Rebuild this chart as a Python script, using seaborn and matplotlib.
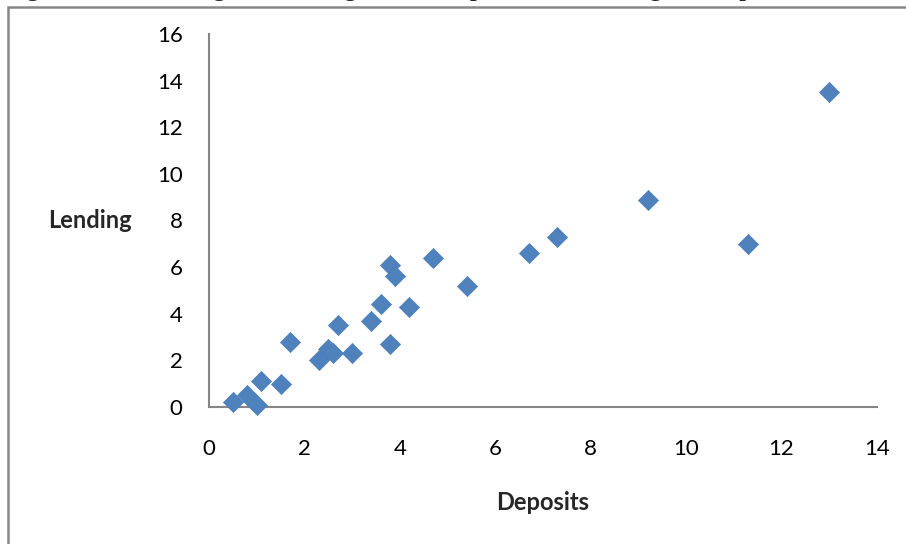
import matplotlib
matplotlib.use("Agg")
import matplotlib.pyplot as plt
from matplotlib.patches import Rectangle
import seaborn as sns
import pandas as pd

# values
deposits = [0.5, 0.8, 1.0, 1.1, 1.5, 1.7, 2.3, 2.5, 2.6, 2.7, 3.0, 3.4,
            3.6, 3.8, 3.9, 3.8, 4.2, 4.7, 5.4, 6.7, 7.3, 9.2, 11.3, 13.0]
lending = [0.2, 0.5, 0.1, 1.1, 1.0, 2.8, 2.0, 2.5, 2.3, 3.5, 2.3, 3.7,
           4.4, 6.1, 5.6, 2.7, 4.3, 6.4, 5.2, 6.6, 7.3, 8.9, 7.0, 13.5]
x_ticks = [0, 2, 4, 6, 8, 10, 12, 14]
y_ticks = [0, 2, 4, 6, 8, 10, 12, 14, 16]
title = "Figure 1: Scatter diagram showing relationship between Lending and Deposits"

df = pd.DataFrame({"Deposits": deposits, "Lending": lending})

sns.set_style("white")
plt.rcParams["font.family"] = ["Lato", "DejaVu Sans"]

fig = plt.figure(figsize=(9.06, 5.44), dpi=100)
ax = fig.add_axes([209 / 906, 1 - 407 / 544, (877 - 209) / 906, (407 - 34) / 544])

sns.scatterplot(data=df, x="Deposits", y="Lending", marker="D", s=105,
                color="#4F81BD", edgecolor="#4A7EBB", linewidth=0.5, ax=ax,
                clip_on=False, zorder=3)

ax.set_xlim(0, 14)
ax.set_ylim(0, 16)
ax.set_xticks(x_ticks)
ax.set_yticks(y_ticks)
for side in ["top", "right"]:
    ax.spines[side].set_visible(False)
for side in ["left", "bottom"]:
    ax.spines[side].set_color("#868686")
    ax.spines[side].set_linewidth(1.5)
ax.tick_params(axis="both", direction="out", length=6, width=1.5,
               color="#868686", labelsize=16, labelcolor="black")
ax.tick_params(axis="x", pad=17)
ax.tick_params(axis="y", pad=13)
ax.grid(False)

ax.set_xlabel("")
ax.set_ylabel("")
fig.text(543 / 906, 1 - 502 / 544, "Deposits", fontsize=17, fontweight="bold",
         ha="center", va="center")
fig.text(90 / 906, 1 - 221 / 544, "Lending", fontsize=17, fontweight="bold",
         ha="center", va="center")

# caption above the chart frame, cut off at the top edge as in the reference
fig.text(6 / 906, 1 + 4 / 544, title, fontsize=17, fontweight="bold",
         family=["Liberation Serif", "DejaVu Serif"], ha="left", va="baseline")

# chart frame
fig.patches.append(Rectangle((8 / 906, -0.1), 1.2, 1.1 - 7 / 544,
                             transform=fig.transFigure, fill=False,
                             edgecolor="#888888", linewidth=1.8))

fig.savefig("out.png", dpi=100)
